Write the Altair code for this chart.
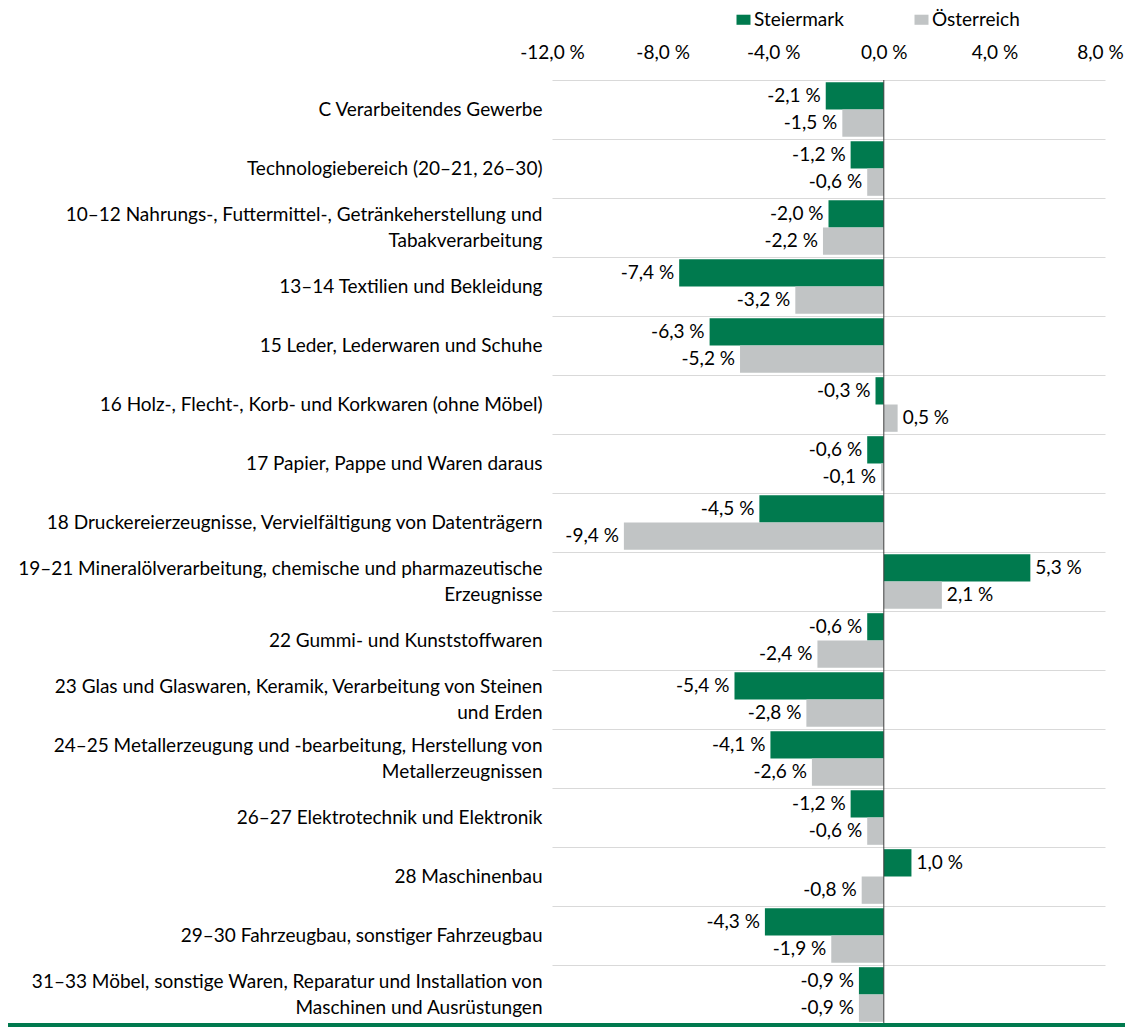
import altair as alt
import pandas as pd

categories = [
    "C Verarbeitendes Gewerbe",
    "Technologiebereich (20–21, 26–30)",
    "10–12 Nahrungs-, Futtermittel-, Getränkeherstellung und\nTabakverarbeitung",
    "13–14 Textilien und Bekleidung",
    "15 Leder, Lederwaren und Schuhe",
    "16 Holz-, Flecht-, Korb- und Korkwaren (ohne Möbel)",
    "17 Papier, Pappe und Waren daraus",
    "18 Druckereierzeugnisse, Vervielfältigung von Datenträgern",
    "19–21 Mineralölverarbeitung, chemische und pharmazeutische\nErzeugnisse",
    "22 Gummi- und Kunststoffwaren",
    "23 Glas und Glaswaren, Keramik, Verarbeitung von Steinen\nund Erden",
    "24–25 Metallerzeugung und -bearbeitung, Herstellung von\nMetallerzeugnissen",
    "26–27 Elektrotechnik und Elektronik",
    "28 Maschinenbau",
    "29–30 Fahrzeugbau, sonstiger Fahrzeugbau",
    "31–33 Möbel, sonstige Waren, Reparatur und Installation von\nMaschinen und Ausrüstungen",
]
steiermark = [-2.1, -1.2, -2.0, -7.4, -6.3, -0.3, -0.6, -4.5, 5.3, -0.6, -5.4, -4.1, -1.2, 1.0, -4.3, -0.9]
oesterreich = [-1.5, -0.6, -2.2, -3.2, -5.2, 0.5, -0.1, -9.4, 2.1, -2.4, -2.8, -2.6, -0.6, -0.8, -1.9, -0.9]
series = ["Steiermark", "Österreich"]
colors = ["#007A4E", "#C1C4C5"]
x_ticks = [-12, -8, -4, 0, 4, 8]

rows = []
for c, s, o in zip(categories, steiermark, oesterreich):
    for name, v in ((series[0], s), (series[1], o)):
        rows.append({"cat": c, "series": name, "value": v,
                     "label": f"{v:.1f}".replace(".", ",") + " %"})
df = pd.DataFrame(rows)

FONT = "Lato"
FS = 19
W, H = 553, 944

y_enc = alt.Y("cat:N", sort=categories, title=None,
              scale=alt.Scale(paddingInner=0, paddingOuter=0),
              axis=alt.Axis(labelExpr="split(datum.label, '\\n')", labelFontSize=FS,
                            labelFont=FONT, labelColor="#000000", labelPadding=10,
                            labelLineHeight=26, labelBaseline="middle", labelLimit=0,
                            labelOffset={"condition": {"test": "indexof(datum.label, '\\n') >= 0",
                                                       "value": -13}, "value": 0},
                            ticks=False, domain=False, grid=True, tickBand="extent",
                            gridColor="#D9D9D9", gridWidth=1.2))
yoff = alt.YOffset("series:N", sort=series, scale=alt.Scale(paddingOuter=0.08, paddingInner=0))
x_enc = alt.X("value:Q", title=None,
              scale=alt.Scale(domain=[-12, 8], nice=False, zero=False),
              axis=alt.Axis(orient="top", values=x_ticks, domain=False, ticks=False, grid=False,
                            labelFlush=False,
                            labelOffset={"condition": {"test": "datum.value == 8", "value": -5},
                                         "value": 0},
                            labelExpr="(datum.value < 0 ? '-' : '') + replace(format(abs(datum.value), '.1f'), '.', ',') + ' %'",
                            labelFontSize=FS, labelFont=FONT, labelColor="#000000", labelPadding=18))

base = alt.Chart(df)

bars = base.mark_bar().encode(
    x=x_enc,
    y=y_enc,
    yOffset=yoff,
    color=alt.Color("series:N", sort=series,
                    scale=alt.Scale(domain=series, range=colors),
                    legend=alt.Legend(title=None, orient="none", direction="horizontal",
                                      legendX=182, legendY=-70,
                                      symbolType="M-1,-0.72H1V0.72H-1Z",
                                      symbolSize=196, symbolStrokeWidth=0, labelFontSize=FS,
                                      labelFont=FONT, labelColor="#000000", labelOffset=1,
                                      columnPadding=68, symbolOpacity=1)),
)

neg_text = base.transform_filter("datum.value < 0").mark_text(
    align="right", baseline="middle", dx=-5, fontSize=FS, font=FONT, color="#000000"
).encode(x="value:Q", y=alt.Y("cat:N", sort=categories), yOffset=yoff, text="label:N")

pos_text = base.transform_filter("datum.value >= 0").mark_text(
    align="left", baseline="middle", dx=5, fontSize=FS, font=FONT, color="#000000"
).encode(x="value:Q", y=alt.Y("cat:N", sort=categories), yOffset=yoff, text="label:N")

zero_df = pd.DataFrame({"zero": [0]})
zero_line = alt.Chart(zero_df).mark_rule(color="#404040", strokeWidth=1).encode(x="zero:Q")

bottom_line = alt.Chart(zero_df).mark_rule(color="#007A4E", strokeWidth=6).encode(
    x=alt.value(-544), x2=alt.value(W + 30), y=alt.value(H + 2))

chart = alt.layer(bars, neg_text, pos_text, zero_line, bottom_line).properties(
    width=W, height=H,
    autosize=alt.AutoSizeParams(type="none"),
    padding={"left": 544, "top": 72, "right": 20, "bottom": 4},
).configure_view(stroke=None)

chart.save("out.html", embed_options={"renderer": "svg", "actions": False})
